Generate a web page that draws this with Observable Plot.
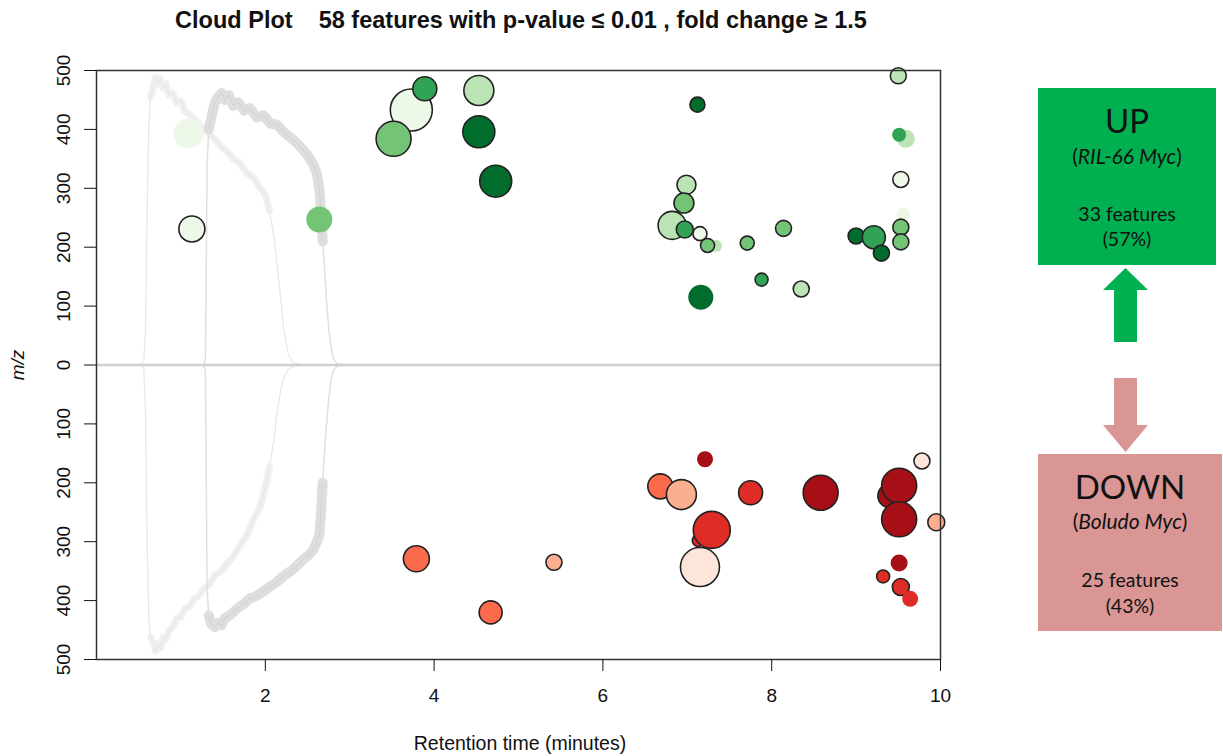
<!DOCTYPE html>
<html>
<head>
<meta charset="utf-8">
<script src="https://cdn.jsdelivr.net/npm/d3@7"></script>
<script src="https://cdn.jsdelivr.net/npm/@observablehq/plot@0.6"></script>
<style>
  html, body { margin: 0; padding: 0; background: #fff; }
  body { width: 1223px; height: 756px; position: relative; overflow: hidden; font-family: "Liberation Sans", Arial, sans-serif; }
  #title { position: absolute; top: 7px; left: 0; width: 1042px; text-align: center; font-weight: bold; font-size: 23.5px; white-space: pre; color: #111; }
  #chart { position: absolute; left: 0; top: 0; }
  #xlabel { position: absolute; top: 732px; left: 0; width: 1040px; text-align: center; font-size: 19.5px; color: #111; }
  #ylabel { position: absolute; left: 18px; top: 365px; transform: translate(-50%, -50%) rotate(-90deg); font-size: 19px; font-style: italic; color: #111; }
  #side { position: absolute; left: 1000px; top: 0; }
</style>
</head>
<body>
<div id="title">Cloud Plot    58 features with p-value ≤ 0.01 , fold change ≥ 1.5</div>
<div id="chart"></div>
<div id="xlabel">Retention time (minutes)</div>
<div id="ylabel">m/z</div>
<svg id="side" width="223" height="756" font-family="Lato, 'Open Sans', sans-serif" fill="#111">
  <rect x="38" y="88" width="178" height="177" fill="#00b050"></rect>
  <polygon points="125.5,268 148,290 137,290 137,342 114,342 114,290 103,290" fill="#00b050"></polygon>
  <polygon points="114,378 137,378 137,425 148,425 125.5,452 103,425 114,425" fill="#d99694"></polygon>
  <rect x="38" y="454" width="184" height="177" fill="#d99694"></rect>
  <g text-anchor="middle">
    <text x="127" y="133" font-size="33">UP</text>
    <text x="127" y="164" font-size="21">(<tspan font-style="italic">RIL-66 Myc</tspan>)</text>
    <text x="127" y="221" font-size="19.5">33 features</text>
    <text x="127" y="246" font-size="19.5">(57%)</text>
    <text x="130" y="499" font-size="33">DOWN</text>
    <text x="130" y="529" font-size="21">(<tspan font-style="italic">Boludo Myc</tspan>)</text>
    <text x="130" y="587" font-size="19.5">25 features</text>
    <text x="130" y="613" font-size="19.5">(43%)</text>
  </g>
</svg>
<script>
// ---------- data: features up in RIL-66 Myc (plotted above 0) ----------
const upTime  = [1.09, 1.13, 2.64, 3.73, 3.52, 3.89, 4.53, 4.53, 4.73, 9.50, 7.12, 9.59, 9.51, 9.53, 9.56, 9.53, 9.53, 6.99, 6.96, 6.82, 6.97, 7.15, 7.34, 7.24, 7.71, 8.14, 7.88, 8.35, 7.16, 9.00, 9.21, 9.30];
const upMz    = [393, 231, 247, 433, 384, 469, 466, 396, 312, 491, 442, 384, 391, 315, 255, 234, 209, 306, 275, 237, 230, 223, 202, 203, 207, 232, 145, 129, 115, 219, 217, 190];
const upSize  = [15, 13, 13, 21, 17.5, 12, 15, 16, 16, 8, 7.5, 9, 7, 8, 7, 8, 8, 9.5, 10, 14, 8.5, 7, 6, 7, 7, 8, 6.5, 8, 12.5, 8, 11.5, 8];
const upShade = [0, 0, 2, 0, 2, 3, 1, 4, 4, 1, 4, 1, 3, 0, 0, 2, 2, 1, 2, 1, 3, 0, 1, 2, 2, 2, 3, 1, 4, 4, 3, 4];
const upEdge  = [0, 1, 0, 1, 1, 1, 1, 1, 1, 1, 1, 0, 0, 1, 0, 1, 1, 1, 1, 1, 1, 1, 0, 1, 1, 1, 1, 1, 0, 1, 1, 1];

// ---------- data: features up in Boludo Myc (plotted below 0) ----------
const downTime  = [7.21, 6.68, 6.93, 7.75, 8.58, 9.40, 9.51, 9.51, 9.78, 9.95, 7.13, 7.29, 7.15, 9.51, 9.32, 9.53, 9.64, 3.79, 4.67, 5.42];
const downMz    = [160, 206, 220, 217, 217, 222, 205, 262, 163, 267, 298, 280, 343, 336, 359, 377, 397, 329, 420, 335];
const downSize  = [8, 12.5, 15, 12, 17.5, 12, 17.5, 17.5, 8, 8.5, 6, 18.5, 19.5, 8.5, 6.5, 8.5, 8, 13, 11.5, 8];
const downShade = [4, 2, 1, 3, 4, 4, 4, 4, 0, 1, 3, 3, 0, 4, 3, 3, 3, 2, 2, 1];
const downEdge  = [0, 1, 1, 1, 1, 1, 1, 1, 1, 1, 1, 1, 1, 0, 1, 1, 0, 1, 1, 1];

// ---------- palettes ----------
const greens = ["#edf8e9", "#bae4b3", "#74c476", "#31a354", "#006d2c"];
const reds   = ["#fee5d9", "#fcae91", "#fb6a4a", "#de2d26", "#a50f15"];

// ---------- background TIC traces (scaled to 0–500) ----------
const ticTimeA = [0.30,0.52,0.56,0.58,0.60,0.62,0.64,0.67,0.70,0.73,0.76,0.79,0.82,0.86,0.90,0.95,1.00,1.05,1.10,1.15,1.20,1.27,1.34,1.41,1.48,1.55,1.62,1.70,1.78,1.86,1.94,2.00,2.05,2.10,2.14,2.18,2.22,2.27,2.33,2.45];
const ticUpA   = [0,0,5,60,260,410,455,470,488,476,486,470,478,458,462,445,448,430,426,418,412,400,392,382,370,362,350,343,326,318,300,290,262,220,170,115,60,20,4,0];
const ticDownA = [0,0,5,80,300,430,462,470,486,472,480,462,466,450,446,430,428,412,410,398,394,380,372,356,350,336,326,306,290,262,240,208,172,130,80,45,22,8,2,0];
const ticTimeB = [1.20,1.27,1.29,1.30,1.31,1.33,1.36,1.40,1.44,1.48,1.52,1.57,1.62,1.68,1.75,1.82,1.90,1.98,2.06,2.14,2.22,2.30,2.38,2.45,2.52,2.57,2.61,2.64,2.66,2.68,2.70,2.72,2.75,2.78,2.81,2.85,2.95];
const ticUpB   = [0,0,10,150,340,400,420,445,455,462,450,458,440,446,432,436,420,424,410,408,395,386,376,365,352,340,325,300,262,210,165,120,64,30,10,2,0];
const ticDownB = [0,0,10,180,380,425,440,445,438,442,430,426,420,412,405,396,392,384,376,368,358,350,340,330,322,314,300,290,250,200,150,110,60,25,8,2,0];

const yTicks = [-500, -400, -300, -200, -100, 0, 100, 200, 300, 400, 500];
const xTicks = [2, 4, 6, 8, 10];

// ---------- build tables ----------
const up = upTime.map((t, i) => ({t, mz: upMz[i], s: upSize[i], fill: greens[upShade[i]], stroke: upEdge[i] ? "#222" : "none"}));
const down = downTime.map((t, i) => ({t, mz: -downMz[i], s: downSize[i], fill: reds[downShade[i]], stroke: downEdge[i] ? "#222" : "none"}));
const features = down.concat(up);

const traceA = [], traceB = [];
ticTimeA.forEach((t, i) => { traceA.push({t, v: ticUpA[i], id: "upA"}); });
ticTimeA.forEach((t, i) => { traceA.push({t, v: -ticDownA[i], id: "downA"}); });
ticTimeB.forEach((t, i) => { traceB.push({t, v: ticUpB[i], id: "upB"}); });
ticTimeB.forEach((t, i) => { traceB.push({t, v: -ticDownB[i], id: "downB"}); });
const noisyA = traceA.filter(d => d.t >= 0.64 && d.t <= 2.06);
const noisyB = traceB.filter(d => d.t >= 1.33 && d.t <= 2.68);

const chart = Plot.plot({
  width: 1000,
  height: 756,
  marginLeft: 96,
  marginRight: 60,
  marginTop: 70,
  marginBottom: 97,
  style: {fontFamily: "'Liberation Sans', Arial, sans-serif", fontSize: "19px", color: "#111", background: "transparent", overflow: "visible"},
  x: {domain: [0, 10]},
  y: {domain: [-500, 500]},
  r: {type: "linear", domain: [0, 20], range: [0, 20]},
  marks: [
    Plot.line(noisyA, {x: "t", y: "v", z: "id", stroke: "#f0f0f0", strokeWidth: 7, strokeLinejoin: "round"}),
    Plot.line(traceA, {x: "t", y: "v", z: "id", stroke: "#e8e8e8", strokeWidth: 1.3}),
    Plot.line(noisyB, {x: "t", y: "v", z: "id", stroke: "#dedede", strokeWidth: 10, strokeLinejoin: "round"}),
    Plot.line(traceB, {x: "t", y: "v", z: "id", stroke: "#e0e0e0", strokeWidth: 1.5}),
    Plot.line(noisyB, {x: "t", y: "v", z: "id", stroke: "#d4d4d4", strokeWidth: 1.2}),
    Plot.ruleY([0], {stroke: "#cfcfcf", strokeWidth: 2.5}),
    Plot.dot(features, {x: "t", y: "mz", r: "s", fill: "fill", stroke: "stroke", strokeWidth: 1.6, sort: null}),
    Plot.frame({stroke: "#333", strokeWidth: 1.5}),
    Plot.axisX({ticks: xTicks, tickSize: 12, tickPadding: 17, label: null, tickFormat: d => d}),
    Plot.axisY({ticks: yTicks, tickSize: 12, label: null, tickFormat: () => ""}),
    Plot.text(yTicks, {y: d => d, text: d => String(Math.abs(d)), frameAnchor: "left", dx: -33, rotate: -90, textAnchor: "middle", lineAnchor: "middle", fontSize: 19})
  ]
});
document.getElementById("chart").appendChild(chart);
</script>
</body>
</html>
